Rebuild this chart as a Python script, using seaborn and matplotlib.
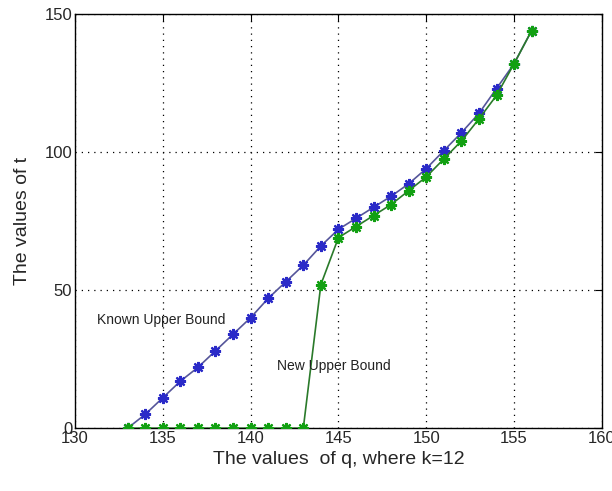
import numpy as np
import pandas as pd
import matplotlib
matplotlib.use("Agg")
import matplotlib.pyplot as plt
import seaborn as sns

# values
q = list(range(133, 157))
known_t = [0, 5, 11, 17, 22, 28, 34, 40, 47, 53, 59, 66, 72, 76, 80, 84, 88.5,
           94, 100.5, 107, 114, 123, 132, 144]
new_t = [0, 0, 0, 0, 0, 0, 0, 0, 0, 0, 0, 52, 69, 73, 77, 81, 86,
         91, 97.5, 104, 112, 120.5, 132, 144]

df_known = pd.DataFrame({"q": q, "t": known_t})
df_new = pd.DataFrame({"q": q, "t": new_t})

sns.set_style("white")
plt.rcParams["font.family"] = ["Liberation Sans", "DejaVu Sans"]

fig = plt.figure(figsize=(6.12, 4.91), dpi=100)
ax = fig.add_axes([0.1225, 0.128, 0.861, 0.8435])

# asterisk markers like the MATLAB '*'
star = (8, 2, 0)
sns.lineplot(data=df_known, x="q", y="t", ax=ax, color="#55559a", linewidth=1.2,
             marker=star, markersize=8, markeredgewidth=1.6,
             markeredgecolor="#2a2ac8", zorder=3)
sns.lineplot(data=df_new, x="q", y="t", ax=ax, color="#2a7a2a", linewidth=1.2,
             marker=star, markersize=8, markeredgewidth=1.6,
             markeredgecolor="#12a012", zorder=3)

ax.set_xlim(130, 160)
ax.set_ylim(0, 150)
ax.set_xticks(np.arange(130, 161, 5))
ax.set_yticks([0, 50, 100, 150])
ax.grid(True, color="black", linestyle=(0, (1, 4)), linewidth=0.9)
ax.tick_params(direction="in", top=True, right=True, length=5, labelsize=12,
               color="black", pad=2)
for s in ax.spines.values():
    s.set_color("black")
    s.set_linewidth(1.0)

ax.text(131.25, 39, "Known Upper Bound", fontsize=10, va="center", ha="left",
        color="#222222")
ax.text(141.5, 22.5, "New Upper Bound", fontsize=10, va="center", ha="left",
        color="#222222")

ax.set_xlabel("The values  of q, where k=12", fontsize=14, labelpad=4)
ax.set_ylabel("The values of t", fontsize=14, labelpad=10)

fig.savefig("out.png", dpi=100)
